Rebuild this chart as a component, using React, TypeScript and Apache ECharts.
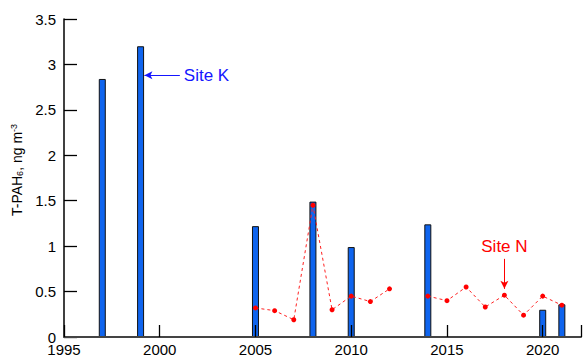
import React, { useEffect, useRef } from "react";
import * as echarts from "echarts";

const barYears = [1997, 1999, 2005, 2008, 2010, 2014, 2020, 2021];
const barValues = [2.84, 3.2, 1.22, 1.49, 0.99, 1.24, 0.3, 0.36];

const lineYears = [2005, 2006, 2007, 2008, 2009, 2010, 2011, 2012, 2013, 2014, 2015, 2016, 2017, 2018, 2019, 2020, 2021];
const lineValues: (number | null)[] = [0.32, 0.29, 0.19, 1.45, 0.3, 0.45, 0.39, 0.53, null, 0.45, 0.4, 0.55, 0.33, 0.46, 0.24, 0.45, 0.35];

const yTicks = [0, 0.5, 1, 1.5, 2, 2.5, 3, 3.5];
const xTickYears = [1995, 2000, 2005, 2010, 2015, 2020];

const siteKArrow = { from: [2001.05, 2.88], to: [1999.2, 2.88], label: "Site K" };
const siteNArrow = { from: [2018, 0.86], to: [2018, 0.53], label: "Site N" };

export default function App() {
  const ref = useRef<HTMLDivElement>(null);
  useEffect(() => {
    if (!ref.current) return;
    const chart = echarts.init(ref.current, undefined, { renderer: "svg" });
    const font = "Liberation Sans, Arial, sans-serif";
    chart.setOption({
      animation: false,
      textStyle: { fontFamily: font },
      grid: { left: 64, top: 19, bottom: 26, right: 1.6 },
      xAxis: {
        type: "value",
        min: xTickYears[0],
        max: 2022,
        interval: 5,
        z: 10,
        axisLine: { show: true, lineStyle: { color: "#444", width: 2 } },
        axisTick: { show: true, inside: true, length: 12, lineStyle: { color: "#000", width: 1.3 } },
        axisLabel: {
          color: "#000", fontSize: 15, fontFamily: font, margin: 5,
          formatter: (v: number) => (xTickYears.includes(v) ? String(v) : ""),
        },
        splitLine: { show: false },
      },
      yAxis: {
        type: "value",
        min: yTicks[0],
        max: yTicks[yTicks.length - 1],
        interval: 0.5,
        axisLine: { show: true, lineStyle: { color: "#000", width: 1.5 } },
        axisTick: { show: true, inside: true, length: 13, lineStyle: { color: "#000", width: 1.3 } },
        axisLabel: { color: "#000", fontSize: 15, fontFamily: font, margin: 8 },
        splitLine: { show: false },
        name: "T-PAH{sub|6}, ng m{sup|-3}",
        nameLocation: "middle",
        nameRotate: 90,
        nameGap: 36,
        nameTextStyle: {
          color: "#000", fontSize: 14, fontFamily: font, padding: [0, 0, 0, 16],
          rich: {
            sub: { fontSize: 9, verticalAlign: "bottom", color: "#000", fontFamily: font, padding: [6, 0, 0, 0] },
            sup: { fontSize: 9, verticalAlign: "top", color: "#000", fontFamily: font, padding: [0, 0, 6, 0] },
          },
        },
      },
      series: [
        {
          type: "bar",
          data: barYears.map((y, i) => [y, barValues[i]]),
          barWidth: 7,
          itemStyle: { color: "#0f64ee", borderColor: "#111", borderWidth: 1 },
          z: 2,
          markLine: {
            silent: true,
            symbol: ["none", "arrow"],
            symbolSize: [6, 8],
            lineStyle: { color: "#1515ff", width: 1, type: "solid" },
            label: { show: true, position: "start", formatter: siteKArrow.label, color: "#1515ff", fontSize: 17, fontFamily: font, distance: 4 },
            data: [[{ coord: siteKArrow.from }, { coord: siteKArrow.to }]],
          },
        },
        {
          type: "line",
          data: lineYears.map((y, i) => [y, lineValues[i]]),
          connectNulls: false,
          symbol: "circle",
          symbolSize: 5,
          showSymbol: true,
          lineStyle: { color: "#ff2020", width: 1, type: [3, 3] },
          itemStyle: { color: "#ff0000" },
          z: 3,
          markLine: {
            silent: true,
            symbol: ["none", "arrow"],
            symbolSize: [6, 8],
            lineStyle: { color: "#ff0000", width: 1, type: "solid" },
            label: { show: true, position: "start", formatter: siteNArrow.label, color: "#ff0000", fontSize: 17, fontFamily: font, distance: 4 },
            data: [[{ coord: siteNArrow.from }, { coord: siteNArrow.to }]],
          },
        },
      ],
    });
    return () => chart.dispose();
  }, []);
  return <div ref={ref} style={{ width: 584, height: 363, position: "absolute", left: 0, top: 0 }} />;
}
